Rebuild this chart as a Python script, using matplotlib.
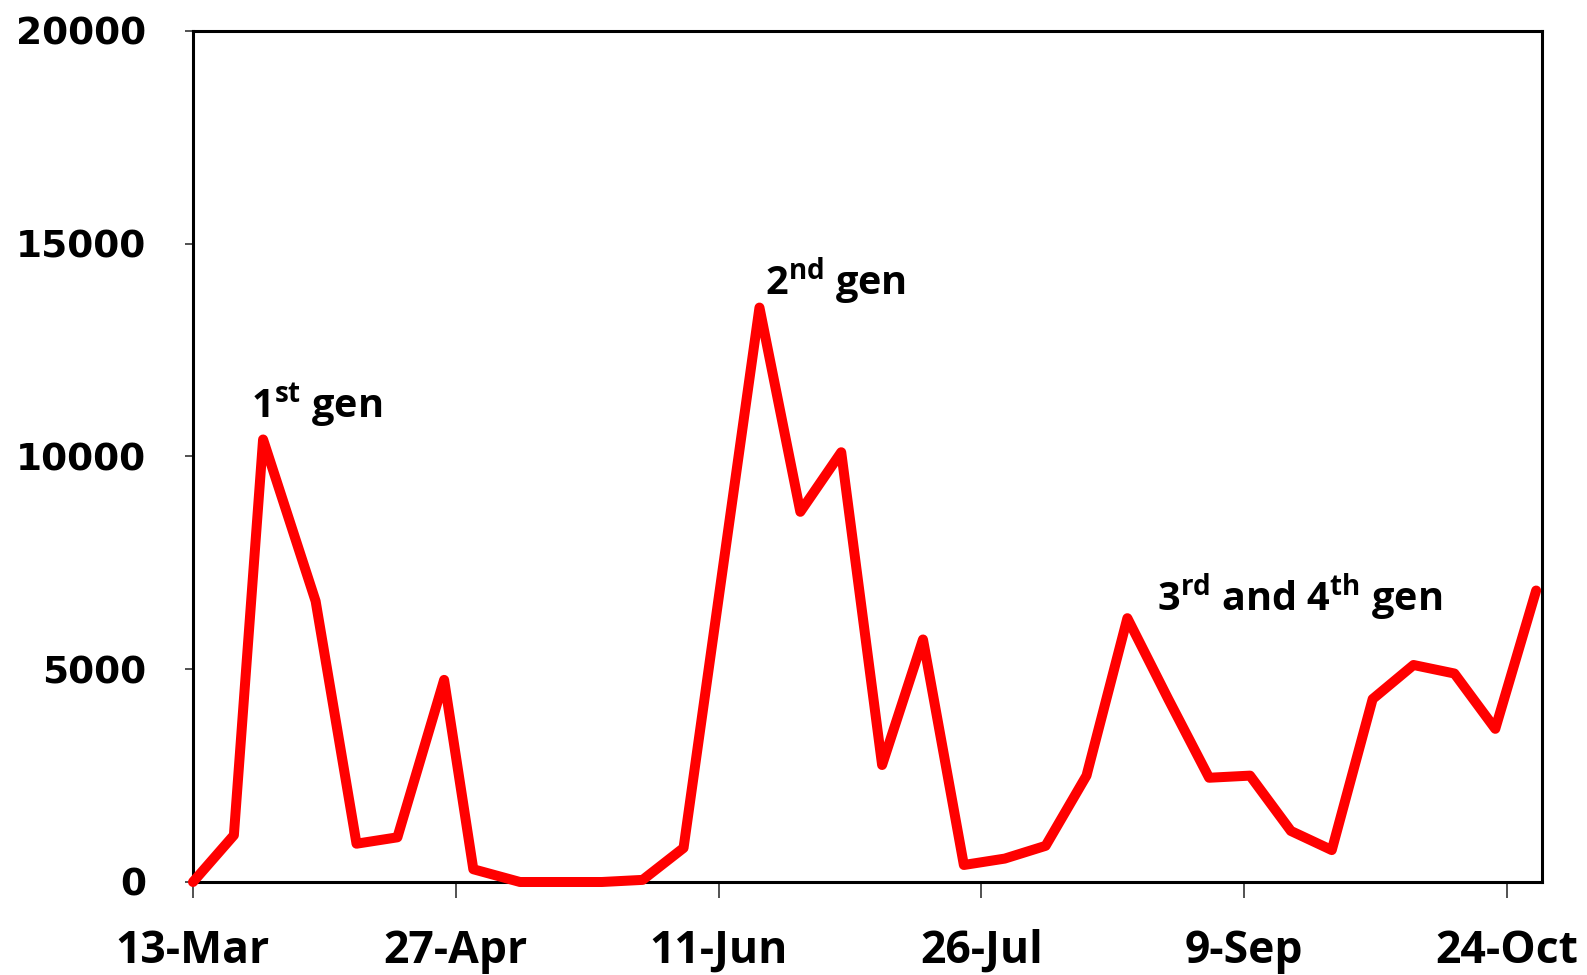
import matplotlib
matplotlib.use("Agg")
import matplotlib.pyplot as plt
import pandas as pd

# ---- data ----
dates = ["2011-03-13", "2011-03-20", "2011-03-25", "2011-04-03", "2011-04-10",
         "2011-04-17", "2011-04-25", "2011-04-30", "2011-05-08", "2011-05-15",
         "2011-05-22", "2011-05-29", "2011-06-05", "2011-06-18", "2011-06-25",
         "2011-07-02", "2011-07-09", "2011-07-16", "2011-07-23", "2011-07-30",
         "2011-08-06", "2011-08-13", "2011-08-20", "2011-08-27", "2011-09-03",
         "2011-09-10", "2011-09-17", "2011-09-24", "2011-10-01", "2011-10-08",
         "2011-10-15", "2011-10-22", "2011-10-29"]
counts = [0, 1100, 10400, 6600, 900,
          1050, 4750, 300, 0, 0,
          0, 50, 800, 13500, 8700,
          10100, 2750, 5700, 400, 550,
          850, 2500, 6200, 4300, 2450,
          2500, 1200, 750, 4300, 5100,
          4900, 3600, 6850]
tick_dates = ["2011-03-13", "2011-04-27", "2011-06-11", "2011-07-26", "2011-09-09", "2011-10-24"]
tick_labels = ["13-Mar", "27-Apr", "11-Jun", "26-Jul", "9-Sep", "24-Oct"]
y_ticks = [0, 5000, 10000, 15000, 20000]
annot_texts = [r"1$^{\mathrm{st}}$ gen", r"2$^{\mathrm{nd}}$ gen", r"3$^{\mathrm{rd}}$ and 4$^{\mathrm{th}}$ gen"]
annot_dates = ["2011-03-23", "2011-06-19", "2011-08-25"]
annot_y = [10900, 13800, 6380]

plt.rcParams['mathtext.fontset'] = 'custom'
plt.rcParams['mathtext.rm'] = 'Open Sans:bold'
plt.rcParams['mathtext.bf'] = 'Open Sans:bold'
plt.rcParams['mathtext.it'] = 'Open Sans:bold'

x = pd.to_datetime(dates)
fig = plt.figure(figsize=(15.87, 9.75), dpi=100)
ax = fig.add_axes([193/1587, 1-882/975, (1542-193)/1587, (882-31)/975])

ax.plot(x, counts, color="#ff0000", lw=7.2, solid_joinstyle="round", solid_capstyle="round",
        clip_on=False, zorder=3)

ax.set_ylim(0, 20000)
ax.set_xlim(pd.Timestamp("2011-03-13"), pd.Timestamp("2011-03-13") + pd.Timedelta(days=231))
ax.set_yticks(y_ticks)
ax.set_yticklabels([str(v) for v in y_ticks], fontfamily="DejaVu Sans", fontweight="bold", fontsize=27)
ax.set_xticks(pd.to_datetime(tick_dates))
ax.set_xticklabels(tick_labels, fontfamily="Open Sans", fontweight="bold", fontsize=32)

ax.tick_params(axis="y", direction="out", length=6, width=1.2, pad=28, color="#333333")
ax.tick_params(axis="x", direction="out", length=11.5, width=1.2, pad=22, color="#333333")
for s in ax.spines.values():
    s.set_linewidth(2.2)
    s.set_color("black")

for t, d, yv in zip(annot_texts, annot_dates, annot_y):
    ax.text(pd.Timestamp(d), yv, t, fontsize=28.5, fontfamily="Open Sans", fontweight="bold",
            ha="left", va="baseline", zorder=4)

fig.savefig("out.png", dpi=100, facecolor="white")
